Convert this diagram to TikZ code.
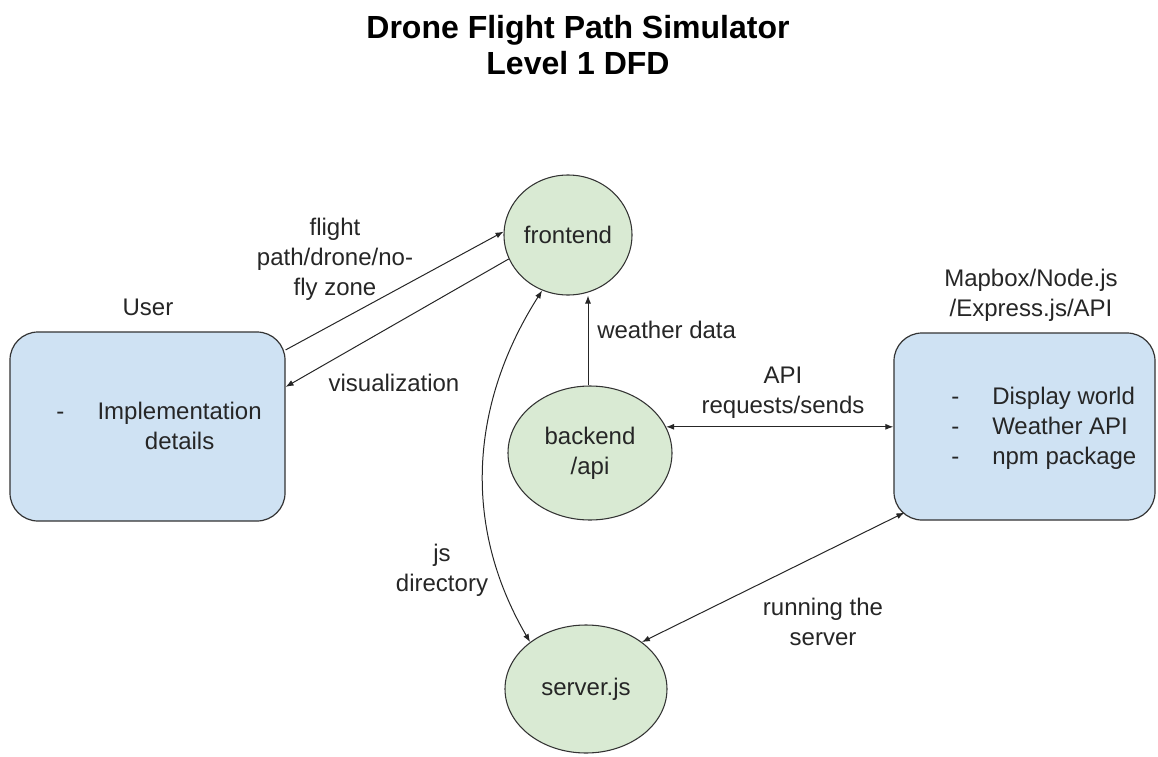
\documentclass[tikz,border=0pt]{standalone}
\usepackage{fontspec}
\setmainfont{Liberation Sans}
\usetikzlibrary{arrows.meta,shapes.geometric,calc}
\definecolor{procfill}{HTML}{D9EAD3}
\definecolor{entfill}{HTML}{CFE2F3}
\definecolor{edge}{HTML}{333333}
\begin{document}
\begin{tikzpicture}[x=0.75pt,y=-0.75pt,
  every node/.style={font=\fontsize{18}{22.5}\selectfont, inner sep=0pt, text=black!85},
  proc/.style={ellipse, draw=edge, line width=0.8pt, fill=procfill},
  entity/.style={rectangle, rounded corners=21pt, draw=edge, line width=0.9pt, fill=entfill},
  flow/.style={line width=0.75pt, draw=black!85, -{Latex[length=6pt,width=4.5pt]}},
  biflow/.style={line width=0.75pt, draw=black!85, {Latex[length=6pt,width=4.5pt]}-{Latex[length=6pt,width=4.5pt]}},
  lbl/.style={align=center}
]
\path[use as bounding box] (0,0) rectangle (1158,757);

% title
\node[align=center, font=\fontsize{24}{27}\selectfont\bfseries, text=black] (title) at (578,45) {Drone Flight Path Simulator\\Level 1 DFD};

% entities
\node[entity, minimum width=206.25pt, minimum height=141.75pt] (user) at (147.5,426.5) {};
\node[entity, minimum width=195.75pt, minimum height=140.25pt] (rbox) at (1024.5,426.5) {};

\node (userlbl) at (148,307) {User};
\node[lbl] (rboxlbl) at (1031,295) {Mapbox/Node.js\\/Express.js/API};

\node[anchor=west] (utext) at (56,428) {\begin{tabular}{@{}l@{\hspace{25pt}}c@{}}-&Implementation\\&details\end{tabular}};
\node[anchor=west] (rtext) at (951,428) {\begin{tabular}{@{}l@{\hspace{24.75pt}}l@{}}-&Display world\\-&Weather API\\-&npm package\end{tabular}};

% processes
\node[proc, minimum width=96pt, minimum height=90pt] (frontend) at (568,235) {frontend};
\node[proc, minimum width=123pt, minimum height=100.5pt, align=center] (backend) at (590,453) {backend\\/api};
\node[proc, minimum width=121.5pt, minimum height=96pt] (server) at (586,689) {server.js};

% flows
\draw[flow] (user.29) -- (frontend.177);
\draw[flow] (frontend.202) -- (user.16);
\draw[flow] (backend.north -| 588,0) -- (frontend.south -| 588,0);
\draw[biflow] (backend.19) -- (backend.19 -| rbox.west);
\draw[biflow] (server.40) -- ($(rbox.south west)+(11,-8)$);
\draw[biflow] (frontend.245) .. controls +(-70,110) and +(-70,-120) .. (server.140);

% flow labels
\node[lbl] (l1) at (335,259) {flight\\path/drone/no-\\fly zone};
\node (l2) at (394,383) {visualization};
\node[anchor=west] (l3) at (597,330) {weather data};
\node[lbl] (l4) at (783,393) {API\\requests/sends};
\node[lbl] (l5) at (823,622) {running the\\server};
\node[lbl] (l6) at (442,570) {js\\directory};
\end{tikzpicture}
\end{document}
